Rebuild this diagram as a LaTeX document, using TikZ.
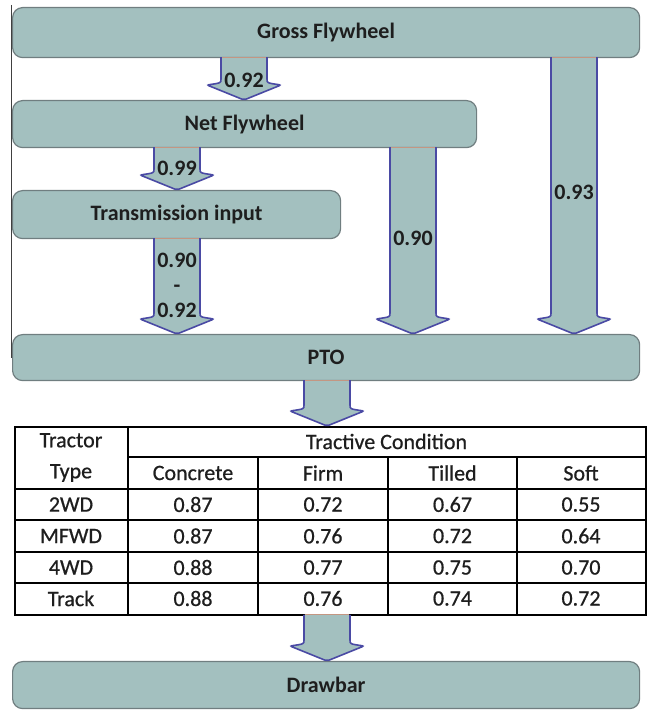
\documentclass[tikz,border=0pt]{standalone}
\usepackage{fontspec}
\setmainfont{Carlito}
\newfontfamily\cellfont[FakeBold=0.7]{Carlito}
\usetikzlibrary{calc}
\definecolor{boxfill}{RGB}{163,192,191}
\definecolor{boxline}{RGB}{112,126,128}
\definecolor{arrowline}{RGB}{74,74,164}
\definecolor{topline}{RGB}{196,150,130}
\definecolor{textcol}{RGB}{30,30,30}
% block arrow: #1 = x of the shaft, #2 = from node, #3 = to node
\newcommand{\flowarrow}[3]{%
  \path[arrowbody] let \p1=(#2.south), \p2=(#3.north) in
    (#1pt-23pt,\y1+1pt) -- (#1pt-23pt,\y2+23pt)
    .. controls (#1pt-23pt,\y2+17pt) .. (#1pt-37pt,\y2+15pt)
    -- (#1pt,\y2) -- (#1pt+37pt,\y2+15pt)
    .. controls (#1pt+23pt,\y2+17pt) .. (#1pt+23pt,\y2+23pt)
    -- (#1pt+23pt,\y1+1pt);
  \path[arrowtop] let \p1=(#2.south) in (#1pt-22pt,\y1+1pt) -- (#1pt+22pt,\y1+1pt);
}
\begin{document}
\begin{tikzpicture}[x=1pt,y=1pt,
  box/.style={draw=boxline,fill=boxfill,line width=1.2pt,rounded corners=10pt,
    inner sep=0pt,text=textcol,font=\bfseries\fontsize{22}{26}\selectfont},
  arrowbody/.style={fill=boxfill,draw=arrowline,line width=1.6pt,rounded corners=2pt},
  arrowtop/.style={draw=topline,line width=1pt},
  arrowlabel/.style={inner sep=0pt,align=center,text=textcol,font=\bfseries\fontsize{22}{25}\selectfont},
  cell/.style={inner sep=0pt,align=center,text=textcol,font=\cellfont\fontsize{22}{31}\selectfont},
  gridline/.style={draw=black,line width=1.3pt}]
\useasboundingbox (0,0) rectangle (654,711);
\draw[black!75,line width=0.8pt] (11,706) -- (11,353);
% boxes
\node[box,minimum width=627pt,minimum height=50pt,anchor=north west] (gross) at (12,704) {Gross Flywheel};
\node[box,minimum width=464pt,minimum height=47pt,anchor=north west] (net) at (12,611) {Net Flywheel};
\node[box,minimum width=328pt,minimum height=48pt,anchor=north west] (trans) at (12,521) {Transmission input};
\node[box,minimum width=627pt,minimum height=46pt,anchor=north west] (pto) at (12,377) {PTO};
\node[box,minimum width=627pt,minimum height=47pt,anchor=north west] (drawbar) at (12,50) {Drawbar};
% table
\node[draw,line width=1.8pt,inner sep=0pt,minimum width=631pt,minimum height=188pt,anchor=north west] (table) at (14,285) {};
\draw[gridline] (128,285) -- (128,97);
\foreach \x in {258,388,517} \draw[gridline] (\x,254) -- (\x,97);
\draw[gridline] (128,254) -- (645,254);
\foreach \y in {222,191,159,128} \draw[gridline] (14,\y) -- (645,\y);
\node[cell] (ttype) at (71,253.5) {Tractor\\Type};
\node[cell] (tcond) at (386.5,269.5) {Tractive Condition};
\foreach \x/\txt in {193/Concrete,323/Firm,452.5/Tilled,581/Soft}
  \node[cell] (h-\txt) at (\x,238) {\txt};
\foreach \y/\typ/\a/\b/\c/\d in {206.5/2WD/0.87/0.72/0.67/0.55,175/MFWD/0.87/0.76/0.72/0.64,
    143.5/4WD/0.88/0.77/0.75/0.70,112.5/Track/0.88/0.76/0.74/0.72}{
  \node[cell] (\typ) at (71,\y) {\typ};
  \node[cell] (\typ-a) at (193,\y) {\a};
  \node[cell] (\typ-b) at (323,\y) {\b};
  \node[cell] (\typ-c) at (452.5,\y) {\c};
  \node[cell] (\typ-d) at (581,\y) {\d};
}
% arrows
\flowarrow{244}{gross}{net}
\flowarrow{177}{net}{trans}
\flowarrow{177}{trans}{pto}
\flowarrow{413}{net}{pto}
\flowarrow{574}{gross}{pto}
\flowarrow{327}{pto}{table}
\flowarrow{327}{table}{drawbar}
\node[arrowlabel] (l1) at (244,631) {0.92};
\node[arrowlabel] (l2) at (177,543) {0.99};
\node[arrowlabel] (l3) at (177,426) {0.90\\-\\0.92};
\node[arrowlabel] (l4) at (413,473) {0.90};
\node[arrowlabel] (l5) at (574,519) {0.93};
\end{tikzpicture}
\end{document}
